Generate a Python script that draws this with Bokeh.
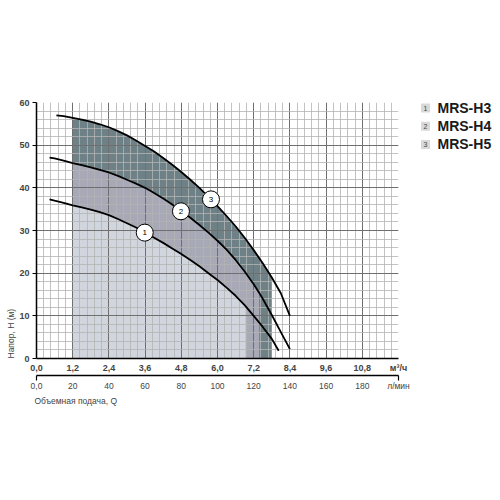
from bokeh.plotting import figure
from bokeh.layouts import row
from bokeh.models import ColumnDataSource, LinearAxis, FixedTicker, Range1d, Title
from bokeh.core.properties import value
from bokeh.embed import file_html
from bokeh.resources import INLINE

# Q in l/min, H in m
h3_q = [7.2, 10, 15, 20, 25, 30, 35, 40, 45, 50, 55, 60, 65, 70, 75, 80, 85, 90, 95, 100,
        105, 110, 115, 115.6, 120, 125, 130, 133.8]
h3_h = [37.3, 37.0, 36.5, 35.9, 35.4, 34.9, 34.3, 33.6, 32.7, 31.7, 30.7, 29.5, 28.3, 27.1,
        25.8, 24.5, 23.1, 21.6, 20.0, 18.4, 16.6, 14.7, 12.5, 12.2, 10.0, 7.4, 4.6, 1.8]

h4_q = [7.2, 10, 15, 20, 25, 30, 35, 40, 45, 50, 55, 60, 65, 70, 75, 80, 85, 90, 95, 100,
        105, 110, 115, 120, 123, 125, 130, 135, 140]
h4_h = [47.1, 46.9, 46.4, 45.8, 45.3, 44.8, 44.2, 43.6, 42.8, 41.9, 41.0, 40.0, 38.8, 37.5,
        36.1, 34.6, 33.0, 31.3, 29.5, 27.6, 25.5, 23.1, 20.4, 17.4, 15.4, 14.0, 10.2, 6.2, 2.2]

h5_q = [11, 15, 20, 25, 30, 35, 40, 45, 50, 55, 60, 65, 70, 75, 80, 85, 90, 95, 100,
        105, 110, 115, 120, 125, 130, 135, 140]
h5_h = [57.0, 56.8, 56.4, 56.0, 55.5, 54.9, 54.2, 53.3, 52.3, 51.1, 49.8, 48.5, 47.0, 45.4,
        43.7, 41.9, 40.0, 37.9, 35.7, 33.4, 31.0, 28.3, 25.4, 22.3, 19.0, 15.3, 10.0]

models = ["MRS-H3", "MRS-H4", "MRS-H5"]
model_nums = ["1", "2", "3"]
work_start = 20
work_end = [115.6, 123, 130]
fill_colors = ["#d1d5de", "#a7a9b7", "#6e8187"]

# numbered markers on the curves
marker_q = [59.8, 79.8, 96.4]
marker_h = [29.5, 34.5, 37.3]

lpm_ticks = [0, 20, 40, 60, 80, 100, 120, 140, 160, 180, 200]
m3h_labels = ["0,0", "1,2", "2,4", "3,6", "4,8", "6,0", "7,2", "8,4", "9,6", "10,8", "м³/ч"]
lpm_labels = ["0,0", "20", "40", "60", "80", "100", "120", "140", "160", "180", "л/мин"]
lpm_minor = list(range(0, 201, 4))
head_ticks = [0, 10, 20, 30, 40, 50, 60]
head_minor = list(range(0, 61, 2))

FONT = "Liberation Sans"
FRAME_TOP, FRAME_H = 102, 256

p = figure(width=418, height=420, x_range=Range1d(0, 200), y_range=Range1d(0, 60),
           output_backend="svg", toolbar_location=None,
           min_border_left=36, min_border_right=20, min_border_top=FRAME_TOP,
           min_border_bottom=420 - FRAME_TOP - FRAME_H)
p.outline_line_color = None

# grid
p.xgrid.ticker = FixedTicker(ticks=lpm_ticks, minor_ticks=lpm_minor)
p.ygrid.ticker = FixedTicker(ticks=head_ticks, minor_ticks=head_minor)
for g in (p.xgrid, p.ygrid):
    g.grid_line_color = "#6f6f6f"
    g.grid_line_width = 1
    g.minor_grid_line_color = "#b4b4b4"
    g.minor_grid_line_width = 0.8

# working zones (largest first)
curves = [(h3_q, h3_h), (h4_q, h4_h), (h5_q, h5_h)]
for i in [2, 1, 0]:
    q, h = curves[i]
    zq = [a for a in q if work_start <= a <= work_end[i]]
    zh = [b for a, b in zip(q, h) if work_start <= a <= work_end[i]]
    p.varea(x=zq, y1=[0] * len(zq), y2=zh, fill_color=fill_colors[i], level="image")

for q, h in curves:
    p.line(q, h, line_color="black", line_width=1.8)

msrc = ColumnDataSource(dict(q=marker_q, h=marker_h, t=model_nums))
p.scatter("q", "h", source=msrc, size=17, fill_color="white", line_color="black", line_width=1)
p.text("q", "h", text="t", source=msrc, text_align="center", text_baseline="middle",
       text_font=value(FONT), text_font_size="8px", text_color="black")

# y axis
ya = p.yaxis[0]
ya.ticker = FixedTicker(ticks=head_ticks)
ya.axis_line_color = "black"
ya.axis_line_width = 1.5
ya.major_tick_out = 4
ya.major_tick_in = 0
ya.major_tick_line_color = "black"
ya.minor_tick_line_color = None
ya.major_label_text_font = FONT
ya.major_label_text_font_style = "bold"
ya.major_label_text_font_size = "9px"
ya.major_label_standoff = 3

# x axis, m3/h
xa = p.xaxis[0]
xa.ticker = FixedTicker(ticks=lpm_ticks)
xa.major_label_overrides = {t: s for t, s in zip(lpm_ticks, m3h_labels)}
xa.axis_line_color = "black"
xa.axis_line_width = 1.5
xa.major_tick_out = 0
xa.major_tick_in = 0
xa.minor_tick_line_color = None
xa.major_label_text_font = FONT
xa.major_label_text_font_style = "bold"
xa.major_label_text_font_size = "9px"
xa.major_label_standoff = 4

# x axis, l/min
xa2 = LinearAxis(ticker=FixedTicker(ticks=lpm_ticks, minor_ticks=[0, 200]))
xa2.major_label_overrides = {t: s for t, s in zip(lpm_ticks, lpm_labels)}
xa2.axis_line_color = "black"
xa2.axis_line_width = 1.5
xa2.major_tick_out = 0
xa2.major_tick_in = 0
xa2.major_tick_line_color = None
xa2.minor_tick_out = 5
xa2.minor_tick_in = 0
xa2.minor_tick_line_color = "black"
xa2.minor_tick_line_width = 1.2
xa2.major_label_text_font = FONT
xa2.major_label_text_font_size = "8.5px"
xa2.major_label_standoff = 0
p.add_layout(xa2, "below")

p.add_layout(Title(text="Объемная подача, Q", align="left", text_font=FONT,
                   text_font_size="8.5px", text_font_style="normal", standoff=0, offset=-2),
             "below")
p.add_layout(Title(text="Напор, H (м)", align="left", text_font=FONT,
                   text_font_size="8.5px", text_font_style="normal", standoff=2), "left")

# legend beside the chart; its frame is aligned with the chart frame (page pixels)
legend_top = 107.5
legend_step = 18.2
leg = figure(width=82, height=420, x_range=Range1d(0, 82),
             y_range=Range1d(FRAME_TOP + FRAME_H, FRAME_TOP),
             output_backend="svg", toolbar_location=None, min_border=0)
leg.axis.visible = False
leg.grid.visible = False
leg.outline_line_color = None
lsrc = ColumnDataSource(dict(y=[legend_top + i * legend_step for i in range(len(models))],
                             num=model_nums, name=models))
leg.rect(x=7, y="y", width=9, height=9, width_units="screen", height_units="screen",
         source=lsrc, fill_color="#d9d9d9", line_color=None)
leg.text(x=7, y="y", text="num", source=lsrc, text_align="center", text_baseline="middle",
         text_font=value(FONT), text_font_size="7px", text_color="#444444")
leg.text(x=19, y="y", text="name", source=lsrc, text_align="left", text_baseline="middle",
         text_font=value(FONT), text_font_style="bold", text_font_size="14px",
         text_color="#1a1a1a")

layout = row(p, leg)
open("out.html", "w").write(file_html(layout, INLINE))
